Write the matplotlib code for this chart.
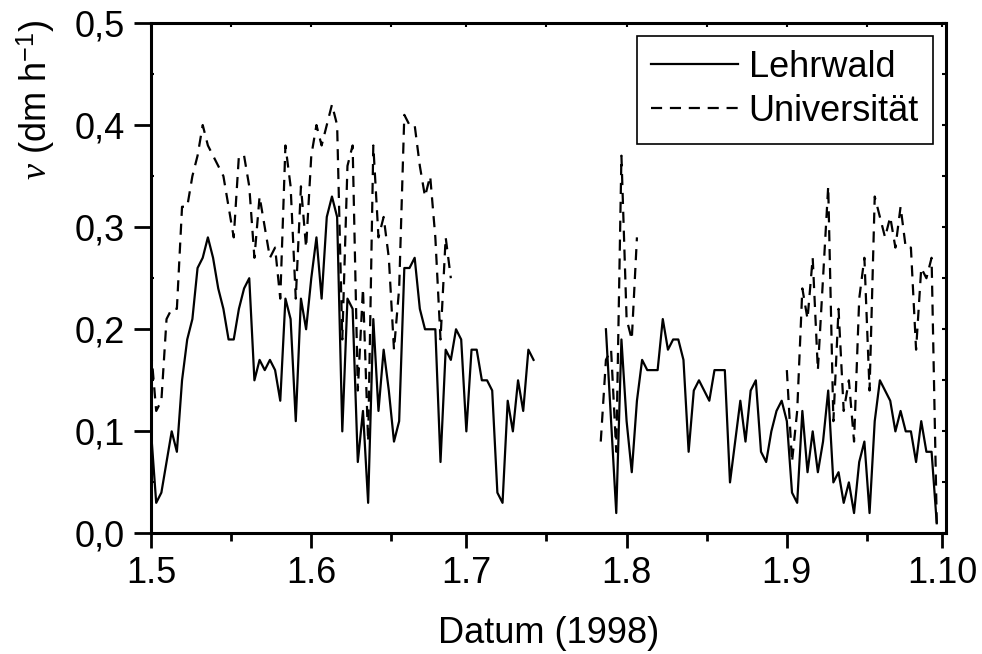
import numpy as np
import pandas as pd
import matplotlib
matplotlib.use('Agg')
import matplotlib.pyplot as plt

plt.rcParams['font.family'] = ['Liberation Sans', 'DejaVu Sans']
plt.rcParams['mathtext.fontset'] = 'custom'
plt.rcParams['mathtext.rm'] = 'Liberation Sans'
plt.rcParams['mathtext.it'] = 'Liberation Serif:italic'

# daily values, each list starts at the given date
lehrwald_starts = ['1998-05-01', '1998-07-28']
lehrwald_1 = [0.10, 0.03, 0.04, 0.07, 0.10, 0.08, 0.15, 0.19, 0.21, 0.26,
              0.27, 0.29, 0.27, 0.24, 0.22, 0.19, 0.19, 0.22, 0.24, 0.25,
              0.15, 0.17, 0.16, 0.17, 0.16, 0.13, 0.23, 0.21, 0.11, 0.23,
              0.20, 0.25, 0.29, 0.23, 0.31, 0.33, 0.31, 0.10, 0.23, 0.22,
              0.07, 0.12, 0.03, 0.21, 0.12, 0.18, 0.14, 0.09, 0.11, 0.26,
              0.26, 0.27, 0.22, 0.20, 0.20, 0.20, 0.07, 0.18, 0.17, 0.20,
              0.19, 0.10, 0.18, 0.18, 0.15, 0.15, 0.14, 0.04, 0.03, 0.13,
              0.10, 0.15, 0.12, 0.18, 0.17]
lehrwald_2 = [0.20, 0.11, 0.02, 0.19, 0.11, 0.06, 0.13, 0.17, 0.16, 0.16,
              0.16, 0.21, 0.18, 0.19, 0.19, 0.17, 0.08, 0.14, 0.15, 0.14,
              0.13, 0.16, 0.16, 0.16, 0.05, 0.09, 0.13, 0.09, 0.14, 0.15,
              0.08, 0.07, 0.10, 0.12, 0.13, 0.11, 0.04, 0.03, 0.12, 0.06,
              0.10, 0.06, 0.09, 0.14, 0.05, 0.06, 0.03, 0.05, 0.02, 0.07,
              0.09, 0.02, 0.11, 0.15, 0.14, 0.13, 0.10, 0.12, 0.10, 0.10,
              0.07, 0.11, 0.08, 0.08, 0.01]

uni_starts = ['1998-05-01', '1998-07-27', '1998-09-01']
uni_1 = [0.18, 0.12, 0.13, 0.21, 0.22, 0.22, 0.32, 0.32, 0.35, 0.37,
         0.40, 0.38, 0.37, 0.36, 0.35, 0.32, 0.29, 0.37, 0.37, 0.34,
         0.27, 0.33, 0.30, 0.27, 0.28, 0.23, 0.38, 0.34, 0.23, 0.34,
         0.28, 0.37, 0.40, 0.38, 0.40, 0.42, 0.40, 0.19, 0.36, 0.38,
         0.14, 0.24, 0.09, 0.38, 0.29, 0.31, 0.27, 0.18, 0.24, 0.41,
         0.40, 0.40, 0.36, 0.33, 0.35, 0.29, 0.19, 0.29, 0.25]
uni_2 = [0.09, 0.17, 0.18, 0.08, 0.37, 0.21, 0.19, 0.29]
uni_3 = [0.16, 0.07, 0.12, 0.24, 0.21, 0.27, 0.16, 0.25, 0.34, 0.11,
         0.22, 0.12, 0.15, 0.09, 0.23, 0.27, 0.14, 0.33, 0.31, 0.29,
         0.31, 0.28, 0.32, 0.28, 0.28, 0.18, 0.26, 0.25, 0.27, 0.01]

tick_labels = ['1.5', '1.6', '1.7', '1.8', '1.9', '1.10']
y_ticks = [0.0, 0.1, 0.2, 0.3, 0.4, 0.5]

t0 = pd.Timestamp('1998-05-01')
fs = 26


def day_index(first, vals):
    d0 = (pd.Timestamp(first) - t0).days
    return np.arange(d0, d0 + len(vals))


fig = plt.figure(figsize=(9.82, 6.54), dpi=100)
ax = fig.add_axes([0.1538, 0.1843, 0.8096, 0.7806])

for i, (s, v) in enumerate(zip(lehrwald_starts, [lehrwald_1, lehrwald_2])):
    ax.plot(day_index(s, v), v, color='black', lw=1.6,
            label='Lehrwald' if i == 0 else None)
for i, (s, v) in enumerate(zip(uni_starts, [uni_1, uni_2, uni_3])):
    ax.plot(day_index(s, v), v, color='black', lw=1.6, dashes=(5, 3.5),
            label='Universität' if i == 0 else None)

months = pd.date_range('1998-05-01', '1998-10-01', freq='MS')
major = np.array([(m - t0).days for m in months])
minor = major[:-1] + 15.5

ax.set_xlim(0, 153.8)
ax.set_ylim(0, 0.5)
ax.set_xticks(major)
ax.set_xticklabels(tick_labels)
ax.set_xticks(minor, minor=True)
ax.set_yticks(y_ticks)
ax.set_yticklabels([f'{v:.1f}'.replace('.', ',') for v in y_ticks])
ax.set_yticks(np.arange(0.05, 0.5, 0.1), minor=True)

ax.tick_params(axis='x', which='major', direction='out', length=11, width=2,
               labelsize=fs, pad=5)
ax.tick_params(axis='x', which='minor', direction='out', length=6, width=2)
ax.tick_params(axis='y', which='major', direction='out', length=12, width=2,
               labelsize=fs, pad=7)
ax.tick_params(axis='y', which='minor', direction='in', length=2, width=1.5)
for sp in ax.spines.values():
    sp.set_linewidth(2.2)

top = ax.secondary_xaxis('top')
top.set_xticks(np.concatenate([major, minor]))
top.tick_params(direction='in', length=3, width=1.5, labeltop=False)
right = ax.secondary_yaxis('right')
right.set_yticks(np.arange(0, 0.51, 0.05))
right.tick_params(direction='in', length=3, width=1.5, labelright=False)

ax.set_xlabel('Datum (1998)', fontsize=fs, labelpad=18)
ax.set_ylabel(r'$\nu$ (dm h$^{-1}$)', fontsize=fs)
ax.yaxis.set_label_coords(-0.118, 0.849)

leg = ax.legend(loc='upper right', fontsize=fs, frameon=True, fancybox=False,
                edgecolor='black', framealpha=1, handlelength=2.4,
                handletextpad=0.3, borderpad=0.4, labelspacing=0.25,
                borderaxespad=0.35)
leg.get_frame().set_linewidth(1.2)

fig.savefig('out.png', dpi=100)
